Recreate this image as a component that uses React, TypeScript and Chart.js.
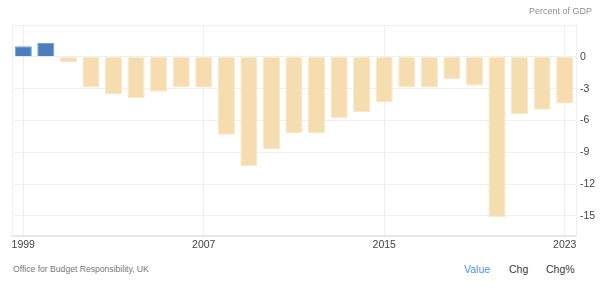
import React, { useEffect, useRef } from "react";
import { Chart, registerables } from "chart.js";

Chart.register(...registerables);

const years: string[] = [
  "1999", "2000", "2001", "2002", "2003", "2004", "2005", "2006", "2007", "2008",
  "2009", "2010", "2011", "2012", "2013", "2014", "2015", "2016", "2017", "2018",
  "2019", "2020", "2021", "2022", "2023",
];

const balance: number[] = [
  1.0, 1.3, -0.5, -2.9, -3.5, -3.9, -3.3, -2.85, -2.9, -7.35,
  -10.3, -8.7, -7.2, -7.2, -5.8, -5.2, -4.3, -2.9, -2.9, -2.1,
  -2.7, -15.1, -5.4, -5.0, -4.4,
];

const yTicks: number[] = [0, -3, -6, -9, -12, -15];
const yMin = -16.9;
const yMax = 3;

const FONT = "'Liberation Sans', Arial, sans-serif";

const frame = {
  id: "frame",
  beforeDatasetsDraw(chart: any) {
    const { ctx, chartArea } = chart;
    ctx.save();
    ctx.strokeStyle = "#efefef";
    ctx.lineWidth = 1;
    ctx.beginPath();
    ctx.moveTo(chartArea.left + 0.5, chartArea.bottom);
    ctx.lineTo(chartArea.left + 0.5, chartArea.top + 0.5);
    ctx.lineTo(chartArea.right, chartArea.top + 0.5);
    ctx.stroke();
    ctx.restore();
  },
};

export default function App() {
  const ref = useRef<HTMLCanvasElement | null>(null);

  useEffect(() => {
    if (!ref.current) return;
    const chart = new Chart(ref.current, {
      type: "bar",
      data: {
        labels: years,
        datasets: [
          {
            data: balance,
            backgroundColor: balance.map((v) => (v >= 0 ? "#4a7ebd" : "#f5ddb0")),
            borderColor: balance.map((v) => (v >= 0 ? "#7aa0d2" : "#f9e8c8")),
            borderWidth: 1,
            barPercentage: 0.76,
            categoryPercentage: 1,
          },
        ],
      },
      options: {
        responsive: false,
        animation: false,
        layout: { padding: { left: 12, top: 25, right: 0, bottom: 0 } },
        plugins: { legend: { display: false }, tooltip: { enabled: false } },
        scales: {
          x: {
            offset: true,
            grid: {
              offset: false,
              drawTicks: false,
              color: (c: any) => (c.index % 8 === 0 ? "#efefef" : "rgba(0,0,0,0)"),
            },
            border: { display: true, color: "#e8e8e8", width: 2 },
            ticks: {
              autoSkip: false,
              maxRotation: 0,
              padding: 3,
              color: "#444",
              font: { family: FONT, size: 10.5 },
              callback: (_v: any, i: number) => (i % 8 === 0 ? years[i] : ""),
            },
            afterFit: (s: any) => {
              s.height = 24;
            },
          },
          y: {
            position: "right",
            min: yMin,
            max: yMax,
            afterBuildTicks: (s: any) => {
              s.ticks = yTicks.map((v) => ({ value: v }));
            },
            grid: { drawTicks: false, color: "#f0f0f0" },
            border: { display: true, color: "#efefef" },
            ticks: {
              padding: 4,
              color: "#444",
              font: { family: FONT, size: 10.5 },
              callback: (v: any) => String(v),
            },
            afterFit: (s: any) => {
              s.width = 26;
            },
          },
        },
      },
      plugins: [frame],
    });
    return () => chart.destroy();
  }, []);

  return (
    <div
      style={{
        position: "absolute",
        left: 0,
        top: 0,
        width: 602,
        height: 289,
        background: "#fff",
        fontFamily: FONT,
      }}
    >
      <canvas ref={ref} width={602} height={260} style={{ position: "absolute", left: 0, top: 0 }} />
      <div
        style={{
          position: "absolute",
          right: 10,
          top: 6,
          fontSize: 9,
          color: "#968f88",
          whiteSpace: "nowrap",
        }}
      >
        Percent of GDP
      </div>
      <div
        style={{
          position: "absolute",
          left: 13,
          top: 264,
          fontSize: 8.6,
          color: "#777",
          whiteSpace: "nowrap",
        }}
      >
        Office for Budget Responsibility, UK
      </div>
      <div style={{ position: "absolute", left: 464, top: 263, fontSize: 10.5, color: "#4d97e8", whiteSpace: "nowrap" }}>
        Value
      </div>
      <div style={{ position: "absolute", left: 509, top: 263, fontSize: 10.5, color: "#3a3a3a", whiteSpace: "nowrap" }}>
        Chg
      </div>
      <div style={{ position: "absolute", left: 546, top: 263, fontSize: 10.5, color: "#3a3a3a", whiteSpace: "nowrap" }}>
        Chg%
      </div>
    </div>
  );
}
